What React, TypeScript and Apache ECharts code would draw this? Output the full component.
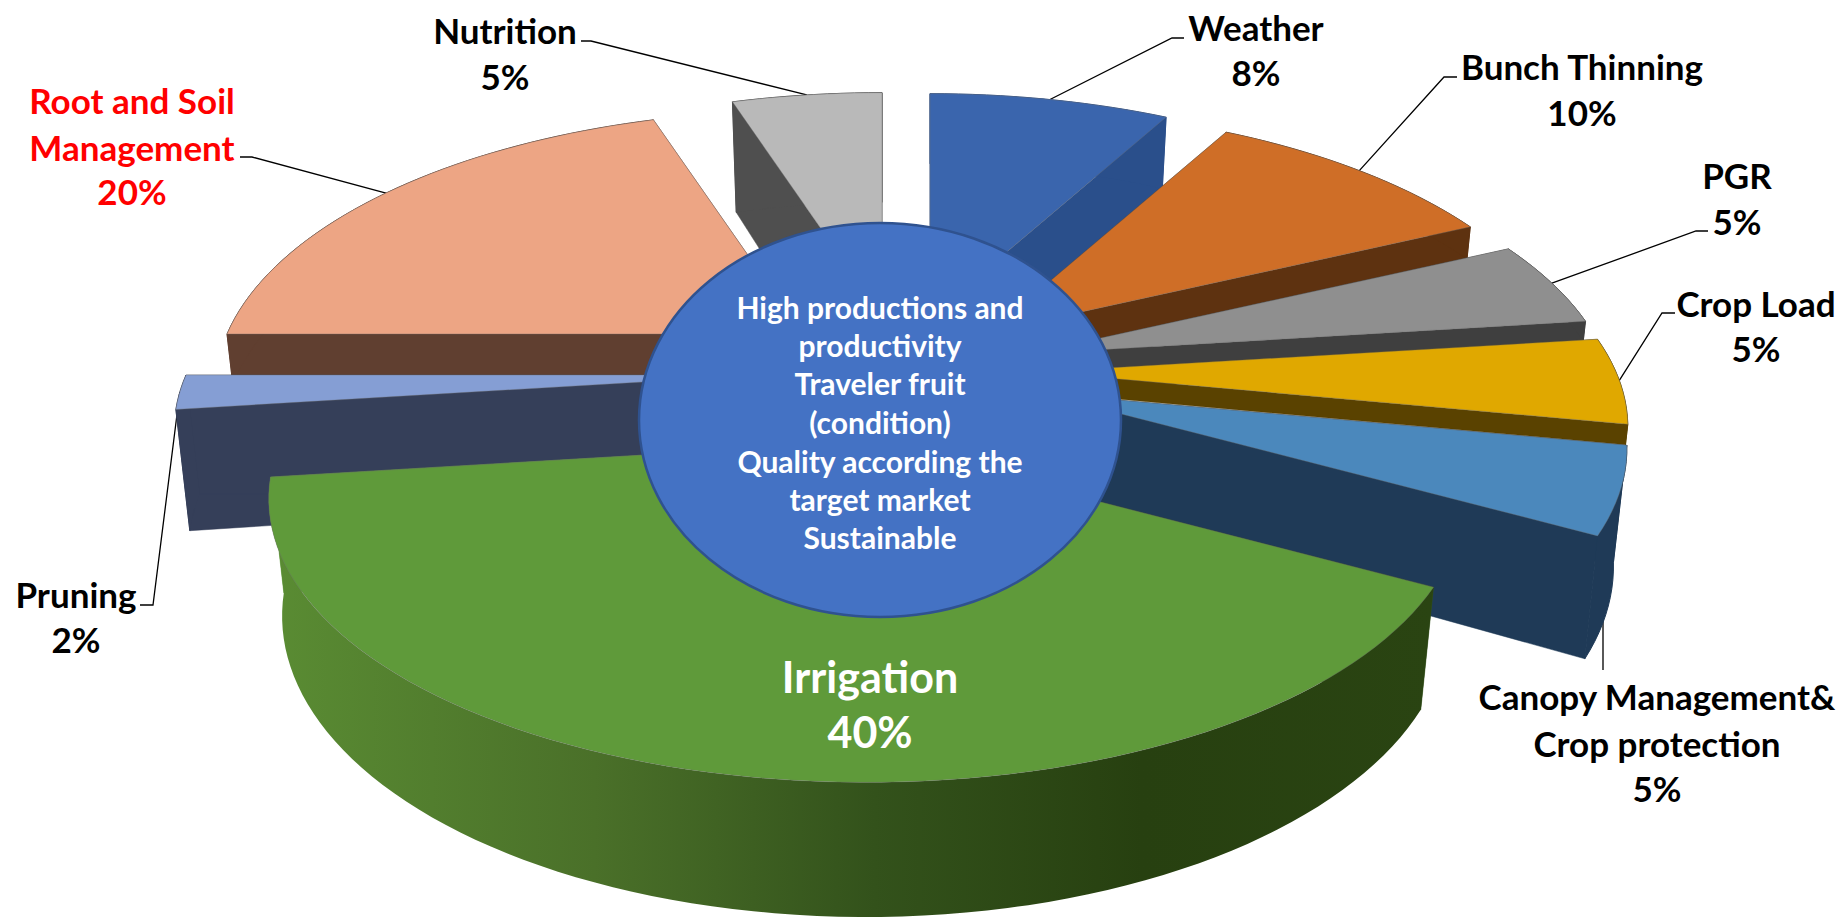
import React, { useEffect, useRef } from "react";
import * as echarts from "echarts";

// ---- data, clockwise from 12 o'clock ----
const categories = ["Weather", "Bunch Thinning", "PGR", "Crop Load", "Canopy Management& Crop protection", "Irrigation", "Pruning", "Root and Soil Management", "Nutrition"];
const sliceValues = [8, 10, 5, 5, 5, 40, 2, 20, 5];

// ---- texts ----
const labelLines = [
  ["Weather", "8%"],
  ["Bunch Thinning", "10%"],
  ["PGR", "5%"],
  ["Crop Load", "5%"],
  ["Canopy Management&", "Crop protection", "5%"],
  ["Irrigation", "40%"],
  ["Pruning", "2%"],
  ["Root and Soil", "Management", "20%"],
  ["Nutrition", "5%"],
];
const centerLines = ["High productions and", "productivity", "Traveler fruit", "(condition)", "Quality according the", "target market", "Sustainable"];

// ---- styles and layout ----
const topColors = ["#3A65AD", "#CF6E27", "#8F8F8F", "#E0A800", "#4B88BC", "#5F9A3A", "#859ED4", "#EDA584", "#B9B9B9"];
const wallColors = ["#2A4F8B", "#5E3210", "#3F3F3F", "#5A4200", "#1F3A57", "#33521B", "#353F59", "#603F30", "#4F4F4F"];
const apexes = [[930, 317], [990, 332], [1028, 354], [1040, 372], [1039, 393], [866, 442], [762, 375], [803, 334], [882, 316]];
const depths = [80, 34, 20, 20, 114, 112, 119, 50, 125];
const radiusScale = [1, 1, 1, 1, 1, 1.016, 1, 1, 1];
const paintRank = [2, 3, 4, 5, 6, 8, 7, 0, 1];
const labelCx = [1256, 1582, 1737, 1756, 1657, 870, 76, 132, 505];
const labelY = [[27, 72], [66, 112], [175, 221], [303, 348], [696, 743, 788], [676, 731], [594, 639], [100, 147, 191], [30, 76]];
const labelColor = ["#000", "#000", "#000", "#000", "#000", "#fff", "#000", "#FF0000", "#000"];
const leaderElbows = [
  [[1184, 38], [1172, 38]],
  [[1457, 77], [1444, 77]],
  [[1708, 231], [1696, 231]],
  [[1675, 313], [1662, 313]],
  [[1603, 670], [1603, 614]],
  [],
  [[140, 605], [153, 605]],
  [[240, 157], [252, 157]],
  [[581, 41], [591, 41]],
];
const centerLineY = [307, 345, 383, 422, 461, 499, 537];

const RX = 576;
const RY = 268;
const PERSPECTIVE = 0.2;
const WALL_SHRINK = 0.0002;
const FONT = "Lato";

const total = sliceValues.reduce((a, b) => a + b, 0);
const startAngles: number[] = [];
sliceValues.reduce((acc, v, i) => {
  startAngles[i] = (acc / total) * 2 * Math.PI;
  return acc + v;
}, 0);

function rimTop(i: number, a: number) {
  const u = Math.sin(a);
  const v = -Math.cos(a);
  const s = (1 / (1 - PERSPECTIVE * v)) * radiusScale[i];
  return [apexes[i][0] + u * s * RX, apexes[i][1] + v * s * RY, s];
}
function rimBottom(i: number, a: number) {
  const [x, y, s] = rimTop(i, a);
  const d = depths[i];
  const f = 1 - WALL_SHRINK * d;
  return [apexes[i][0] + (x - apexes[i][0]) * f, apexes[i][1] + (y - apexes[i][1]) * f + d * s];
}

function renderSlice(params: any, api: any) {
  const i = params.dataIndex;
  const a0 = startAngles[i];
  const a1 = a0 + (api.value(0) / total) * 2 * Math.PI;
  const steps = Math.max(4, Math.ceil((a1 - a0) / 0.03));
  const angles: number[] = [];
  for (let k = 0; k <= steps; k++) angles.push(a0 + ((a1 - a0) * k) / steps);
  const top = angles.map((a) => rimTop(i, a).slice(0, 2));
  const bottom = angles.map((a) => rimBottom(i, a));
  const apex = apexes[i];
  const apexBottom = [apex[0], apex[1] + depths[i]];
  const rank = paintRank[i] * 10 + 10;
  const isIrrigation = categories[i] === "Irrigation";
  const wallFill: any = isIrrigation
    ? new echarts.graphic.LinearGradient(0, 0, 1, 0, [
        { offset: 0, color: "#5A8C33" },
        { offset: 0.28, color: "#4A7029" },
        { offset: 0.52, color: "#33521B" },
        { offset: 0.75, color: "#274010" },
        { offset: 1, color: "#2A4412" },
      ])
    : wallColors[i];
  const endFaceFill = isIrrigation ? topColors[i] : wallColors[i];
  const elbows = leaderElbows[i];
  const mid = rimTop(i, (a0 + a1) / 2).slice(0, 2);
  const children: any[] = [];
  if (elbows.length) {
    children.push({
      type: "polyline",
      z2: 1,
      shape: { points: [...elbows, mid] },
      style: { stroke: "#000", lineWidth: 1.3, fill: "none" },
    });
  }
  children.push(
    {
      type: "polygon",
      z2: rank,
      shape: { points: [apex, top[0], bottom[0], apexBottom] },
      style: { fill: wallColors[i], stroke: wallColors[i], lineWidth: 0.5 },
    },
    {
      type: "polygon",
      z2: rank,
      shape: { points: [apex, top[steps], bottom[steps], apexBottom] },
      style: { fill: endFaceFill, stroke: endFaceFill, lineWidth: 0.5 },
    },
    {
      type: "polygon",
      z2: rank + 1,
      shape: { points: [...top, ...bottom.slice().reverse()] },
      style: isIrrigation ? { fill: wallFill } : { fill: wallFill, stroke: wallFill, lineWidth: 1 },
    },
    {
      type: "polygon",
      z2: rank + 2,
      shape: { points: [apex, ...top] },
      style: { fill: topColors[i], stroke: "rgba(110,110,110,0.45)", lineWidth: 0.8 },
    }
  );
  return { type: "group", children };
}

export default function App() {
  const ref = useRef<HTMLDivElement>(null);
  useEffect(() => {
    const chart = echarts.init(ref.current!, null, { renderer: "svg" });
    const labelTexts: any[] = [];
    labelLines.forEach((lines, i) => {
      const large = categories[i] === "Irrigation";
      lines.forEach((t, j) => {
        labelTexts.push({
          type: "text",
          z: 110,
          style: {
            text: t,
            x: labelCx[i],
            y: labelY[i][j],
            fontFamily: FONT,
            fontWeight: 700,
            fontSize: large ? 43 : 35,
            fill: labelColor[i],
            align: "center",
            verticalAlign: "middle",
          },
        });
      });
    });
    const centerTexts = centerLines.map((t, j) => ({
      type: "text",
      z: 110,
      style: {
        text: t,
        x: 880,
        y: centerLineY[j],
        fontFamily: FONT,
        fontWeight: 700,
        fontSize: 30,
        fill: "#fff",
        align: "center",
        verticalAlign: "middle",
      },
    }));
    chart.setOption({
      animation: false,
      backgroundColor: "#fff",
      series: [
        {
          type: "custom",
          coordinateSystem: "none",
          silent: true,
          data: sliceValues.map((v) => [v]),
          renderItem: renderSlice,
        },
      ],
      graphic: [
        {
          type: "ellipse",
          z: 100,
          shape: { cx: 880, cy: 420, rx: 241, ry: 197 },
          style: { fill: "#4472C4", stroke: "#2F528F", lineWidth: 2.5 },
        },
        ...centerTexts,
        ...labelTexts,
      ],
    });
    return () => chart.dispose();
  }, []);
  return <div ref={ref} style={{ position: "absolute", left: 0, top: 0, width: 1844, height: 922 }} />;
}
